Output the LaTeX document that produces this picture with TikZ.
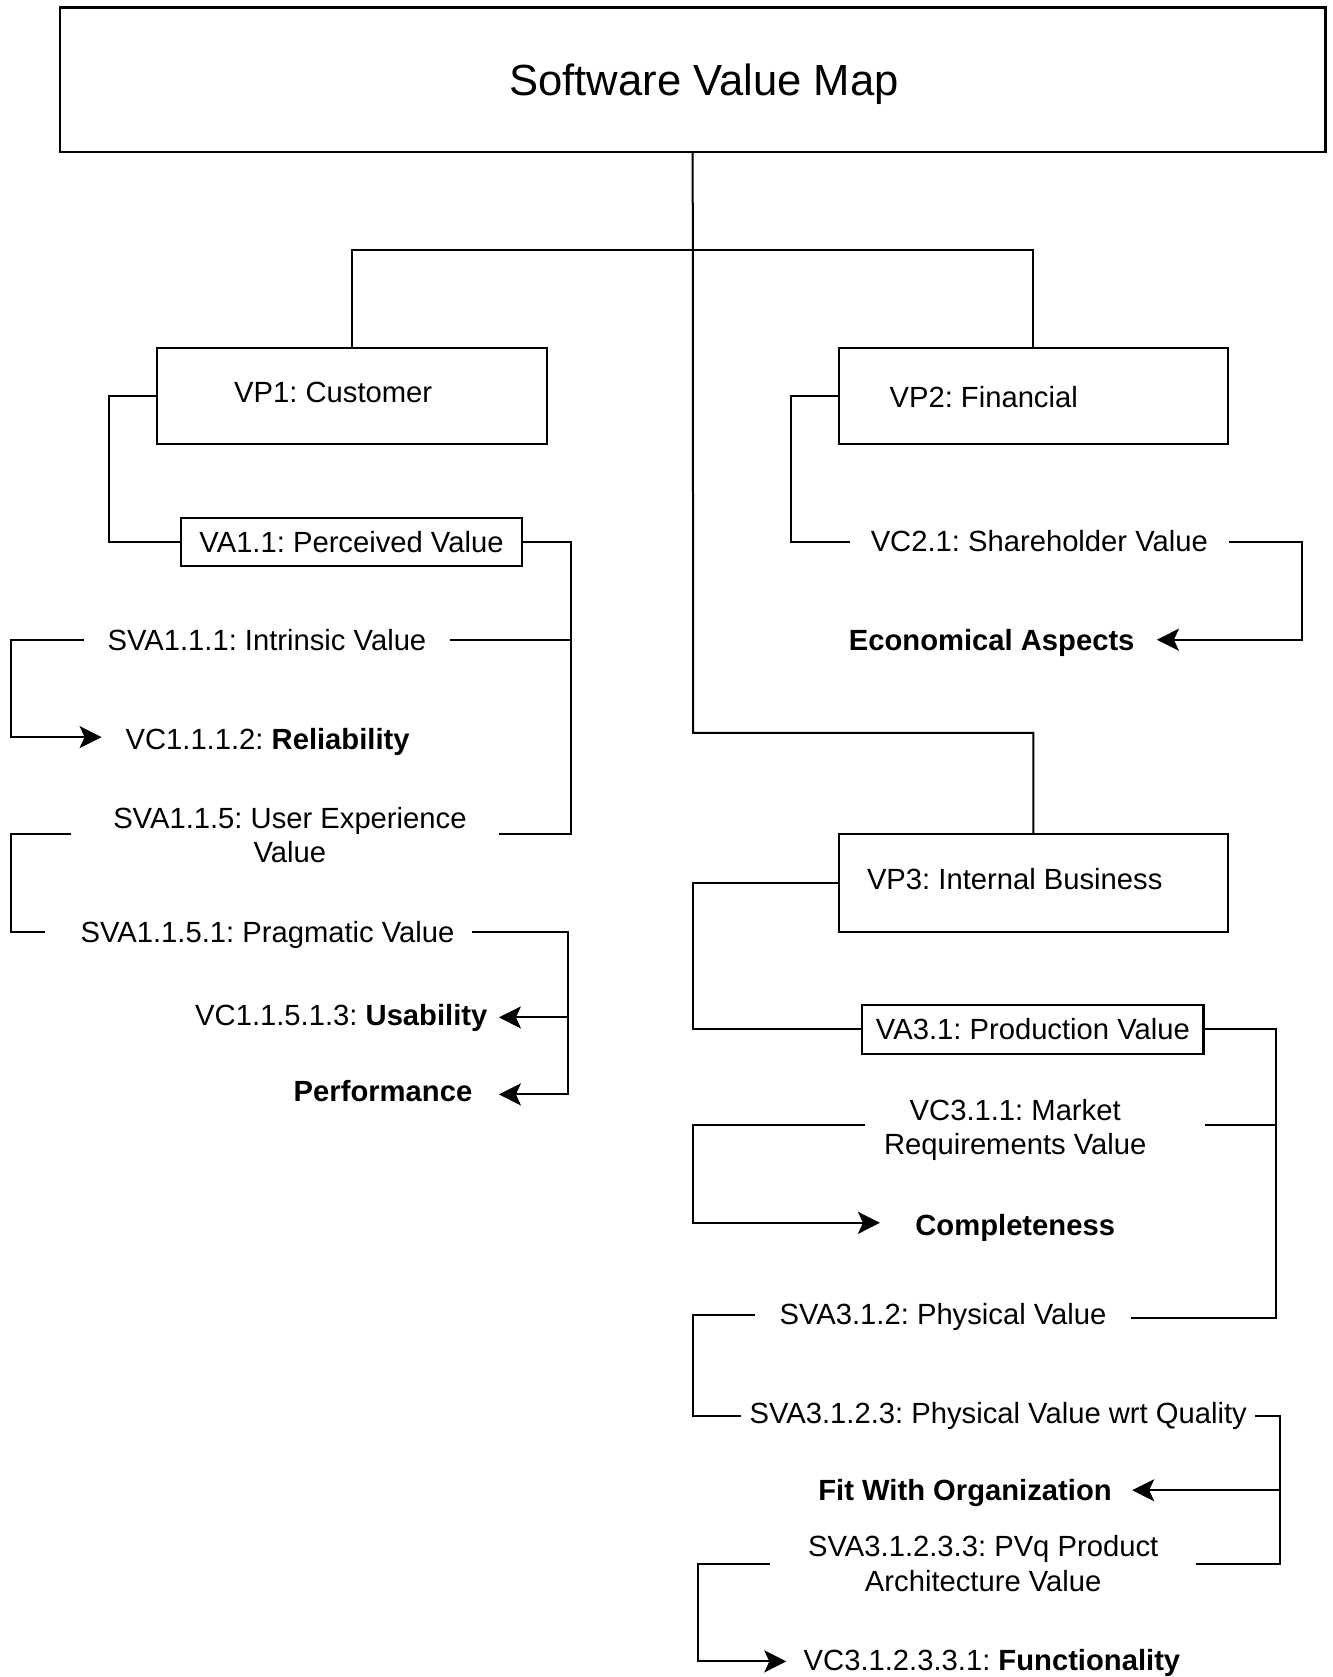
\documentclass[tikz,border=0pt]{standalone}
\usepackage{fontspec}
\setmainfont{Liberation Sans}
\usetikzlibrary{arrows.meta,calc}
\begin{document}
\frenchspacing
\begin{tikzpicture}[x=0.5pt,y=-0.5pt,
  every node/.style={font=\fontsize{14.6}{17.2}\selectfont},
  box/.style={draw,line width=1.05pt,inner sep=0pt},
  txt/.style={inner sep=0pt,align=center},
  conn/.style={line width=1pt},
  arr/.style={conn,-{Stealth[length=11pt,width=11pt,inset=2.5pt]}}
]
\useasboundingbox (0,0) rectangle (1333,1677);

% boxes
\node[box,minimum width=632.8pt,minimum height=72.2pt] (title) at (692.7,79.7) {};
\node[txt,font=\fontsize{21.8}{26}\selectfont] (titlet) at (704,84.3) {Software Value Map};

\node[box,minimum width=194.7pt,minimum height=48.15pt] (vp1) at (352,395.9) {};
\node[txt] (vp1t) at (333.2,392.6) {VP1: Customer};
\node[box,minimum width=194.7pt,minimum height=48.15pt] (vp2) at (1033.4,395.9) {};
\node[txt] (vp2t) at (983.7,396.9) {VP2: Financial};
\node[box,minimum width=194.7pt,minimum height=48.7pt] (vp3) at (1033.4,883.1) {};
\node[txt] (vp3t) at (1014.7,879.4) {VP3: Internal Business};

\node[box,minimum width=170.65pt,minimum height=24.05pt] (va11) at (351.5,541.9) {VA1.1: Perceived Value};
\node[box,minimum width=170.6pt,minimum height=24.65pt] (va31) at (1032.9,1029.2) {VA3.1: Production Value};

% text cells
\node[txt,minimum width=182.4pt] (sva111) at (266.9,639.7) {SVA1.1.1: Intrinsic Value};
\node[txt,anchor=west,inner xsep=11.8pt] (vc1112) at (101.6,741.8) {VC1.1.1.2: \textbf{Reliability}};
\node[txt,minimum width=208.6pt] (sva115) at (289.9,835) {SVA1.1.5: User Experience\\Value};
\node[txt,minimum width=204.3pt] (sva1151) at (267.5,934.7) {SVA1.1.5.1: Pragmatic Value};
\node[txt,minimum width=157.2pt] (usab) at (341.3,1018) {VC1.1.5.1.3: \textbf{Usability}};
\node[txt,minimum width=115.5pt] (perf) at (383,1090.6) {\textbf{Performance}};

\node[txt,minimum width=188.8pt] (vc21) at (1039.3,541) {VC2.1: Shareholder Value};
\node[txt,minimum width=164.8pt] (econ) at (991.7,643.2) {\textbf{Economical Aspects}};

\node[txt,minimum width=149.7pt] (vc311) at (1015.2,1130.2) {VC3.1.1: Market\\Requirements Value};
\node[txt,minimum width=134.8pt] (compl) at (1015.2,1227.6) {\textbf{Completeness}};
\node[txt,minimum width=187.75pt] (sva312) at (943,1317) {SVA3.1.2: Physical Value};
\node[txt,minimum width=256.75pt] (sva3123) at (998.2,1416) {SVA3.1.2.3: Physical Value wrt Quality};
\node[txt,minimum width=166.8pt] (fit) at (965,1493.4) {\textbf{Fit With Organization}};
\node[txt,minimum width=212.85pt] (sva31233) at (983.2,1563.5) {SVA3.1.2.3.3: PVq Product\\Architecture Value};
\node[txt,anchor=west,inner xsep=8.5pt] (func) at (786.3,1663) {VC3.1.2.3.3.1: \textbf{Functionality}};

% helper coordinates
\coordinate (bar) at (693.2,250.3);
\coordinate (elbow3) at (693.2,732.8);
\coordinate (L1) at (10.7,0);
\coordinate (L2) at (109.1,0);
\coordinate (b1) at (571.3,0);
\coordinate (b2) at (568.1,0);
\coordinate (L5) at (790.6,0);
\coordinate (b3) at (1302,0);
\coordinate (L3) at (693.2,0);
\coordinate (b4) at (1276.3,0);
\coordinate (b5) at (1279.5,0);
\coordinate (L4) at (697.5,0);
\coordinate (y1112) at (0,737.1);
\coordinate (y115) at (0,834);
\coordinate (y1151) at (0,931.8);
\coordinate (yusab) at (0,1017.4);
\coordinate (yperf) at (0,1094.4);
\coordinate (y21) at (0,542.4);
\coordinate (yecon) at (0,639.7);
\coordinate (y311) at (0,1125.4);
\coordinate (ycompl) at (0,1222.8);
\coordinate (y312) at (0,1316.4);
\coordinate (y3123) at (0,1416.4);
\coordinate (yfit) at (0,1490.2);
\coordinate (yfunc) at (0,1661.4);

% tree trunk
\draw[conn] (vp1.north) |- (bar) -| (vp2.north);
\draw[conn] (title.south) -- (elbow3) -| (vp3.north);

% VP1 branch
\draw[conn] (vp1.west) -- (vp1.west -| L2) |- (va11.west);
\draw[conn] (va11.east) -- (va11.east -| b1) |- (sva115.east |- y115);
\draw[conn] (sva111.east) -- (sva111.east -| b1);
\draw[arr] (sva111.west) -- (sva111.west -| L1) |- (vc1112.west |- y1112);
\draw[conn] ([xshift=-4.8pt]sva115.west |- y115) -- (L1 |- y115) |- ([xshift=-9.15pt]sva1151.west |- y1151);
\draw[arr] (sva1151.east |- y1151) -- (b2 |- y1151) |- (perf.east |- yperf);
\draw[arr] (b2 |- yusab) -- (usab.east |- yusab);

% VP2 branch
\draw[conn] (vp2.west) -- (vp2.west -| L5) |- (vc21.west |- y21);
\draw[arr] (vc21.east |- y21) -- (b3 |- y21) |- (econ.east |- yecon);

% VP3 branch
\draw[conn] (vp3.west) -- (vp3.west -| L3) |- (va31.west);
\draw[conn] (va31.east) -- (va31.east -| b4) |- ([yshift=-0.8pt]sva312.east |- y312);
\draw[conn] ([xshift=19.85pt]vc311.east |- y311) -- (b4 |- y311);
\draw[arr] (vc311.west |- y311) -- (L3 |- y311) |- (compl.west |- ycompl);
\draw[conn] ([yshift=0.8pt]sva312.west |- y312) -- ([yshift=0.8pt]L3 |- y312) |- (sva3123.west |- y3123);
\draw[conn] (sva3123.east |- y3123) -- (b5 |- y3123) |- (sva31233.east);
\draw[arr] (b5 |- yfit) -- (fit.east |- yfit);
\draw[arr] (sva31233.west) -- (sva31233.west -| L4) |- (func.west |- yfunc);
\end{tikzpicture}
\end{document}
